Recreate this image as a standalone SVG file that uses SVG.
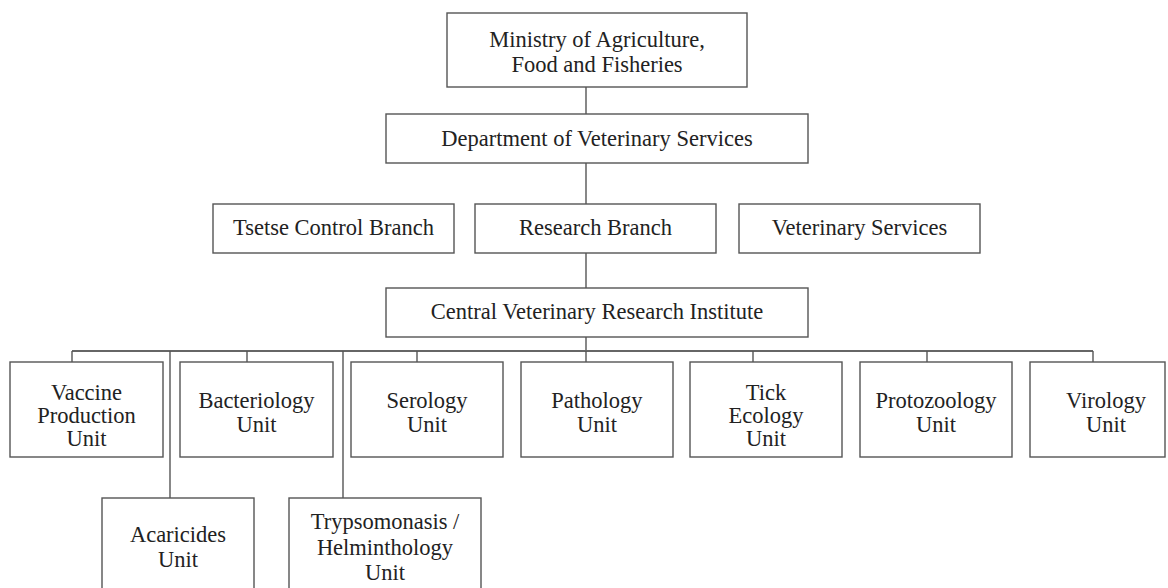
<svg xmlns="http://www.w3.org/2000/svg" width="1168" height="588" viewBox="0 0 1168 588">
<style>
.box{fill:#fff;stroke:#555;stroke-width:1.4}
.t{font-family:"Liberation Serif","Times New Roman",serif;font-size:22.5px;fill:#222;text-anchor:middle}
.c{stroke:#555;stroke-width:1.4;fill:none}
.bus{stroke:#666;stroke-width:2;fill:none}
</style>
<rect width="1168" height="588" fill="#fff"/>
<g id="connectors">
<line class="c" x1="586" y1="87" x2="586" y2="114"/>
<line class="c" x1="586" y1="163" x2="586" y2="204"/>
<line class="c" x1="586" y1="253" x2="586" y2="288"/>
<line class="c" x1="586" y1="337" x2="586" y2="351"/>
<line class="bus" x1="72" y1="351" x2="1093" y2="351"/>
<line class="c" x1="72" y1="351" x2="72" y2="362"/>
<line class="c" x1="247" y1="351" x2="247" y2="362"/>
<line class="c" x1="417" y1="351" x2="417" y2="362"/>
<line class="c" x1="586" y1="351" x2="586" y2="362"/>
<line class="c" x1="753" y1="351" x2="753" y2="362"/>
<line class="c" x1="927" y1="351" x2="927" y2="362"/>
<line class="c" x1="1093" y1="351" x2="1093" y2="362"/>
<line class="c" x1="170" y1="351" x2="170" y2="498"/>
<line class="c" x1="343" y1="351" x2="343" y2="498"/>
</g>
<g id="ministry"><rect class="box" x="447" y="13" width="300" height="74"/><text class="t" x="597" y="47">Ministry of Agriculture,</text><text class="t" x="597" y="72">Food and Fisheries</text></g>
<g id="department"><rect class="box" x="386" y="114" width="422" height="49"/><text class="t" x="597" y="146">Department of Veterinary Services</text></g>
<g id="tsetse"><rect class="box" x="213" y="204" width="241" height="49"/><text class="t" x="333.5" y="235">Tsetse Control Branch</text></g>
<g id="research"><rect class="box" x="475" y="204" width="241" height="49"/><text class="t" x="595.5" y="235">Research Branch</text></g>
<g id="vetservices"><rect class="box" x="739" y="204" width="241" height="49"/><text class="t" x="859.5" y="235">Veterinary Services</text></g>
<g id="cvri"><rect class="box" x="386" y="288" width="422" height="49"/><text class="t" x="597" y="319">Central Veterinary Research Institute</text></g>
<g id="vaccine"><rect class="box" x="10" y="362" width="153" height="95"/><text class="t" x="86.5" y="400">Vaccine</text><text class="t" x="86.5" y="423">Production</text><text class="t" x="86.5" y="446">Unit</text></g>
<g id="bacteriology"><rect class="box" x="180" y="362" width="153" height="95"/><text class="t" x="256.5" y="408">Bacteriology</text><text class="t" x="256.5" y="432">Unit</text></g>
<g id="serology"><rect class="box" x="351" y="362" width="152" height="95"/><text class="t" x="427" y="408">Serology</text><text class="t" x="427" y="432">Unit</text></g>
<g id="pathology"><rect class="box" x="521" y="362" width="152" height="95"/><text class="t" x="597" y="408">Pathology</text><text class="t" x="597" y="432">Unit</text></g>
<g id="tickecology"><rect class="box" x="690" y="362" width="152" height="95"/><text class="t" x="766" y="400">Tick</text><text class="t" x="766" y="423">Ecology</text><text class="t" x="766" y="446">Unit</text></g>
<g id="protozoology"><rect class="box" x="860" y="362" width="152" height="95"/><text class="t" x="936" y="408">Protozoology</text><text class="t" x="936" y="432">Unit</text></g>
<g id="virology"><rect class="box" x="1030" y="362" width="135" height="95"/><text class="t" x="1106" y="408">Virology</text><text class="t" x="1106" y="432">Unit</text></g>
<g id="acaricides"><rect class="box" x="102" y="498" width="152" height="100"/><text class="t" x="178" y="542">Acaricides</text><text class="t" x="178" y="567">Unit</text></g>
<g id="trypsomonasis"><rect class="box" x="289" y="498" width="192" height="100"/><text class="t" x="385" y="529">Trypsomonasis /</text><text class="t" x="385" y="555">Helminthology</text><text class="t" x="385" y="580">Unit</text></g>
</svg>
